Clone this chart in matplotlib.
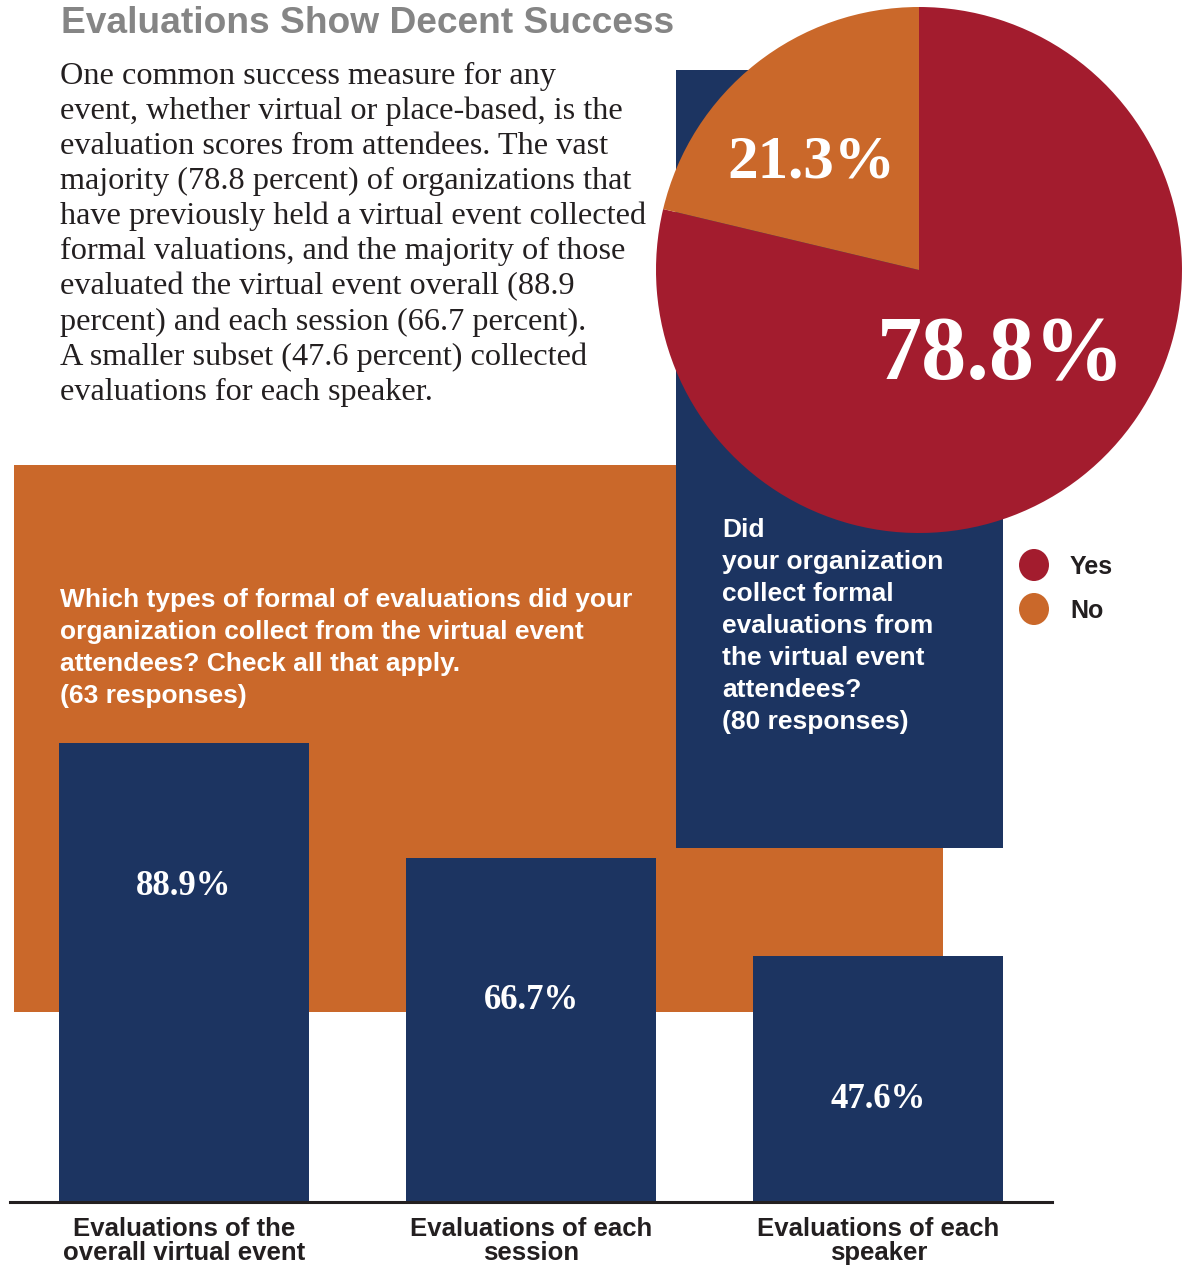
import matplotlib
matplotlib.use("Agg")
import matplotlib.pyplot as plt
from matplotlib.patches import Rectangle, Circle

# ---- data ----
bar_categories = ["Evaluations of the\noverall virtual event",
                  "Evaluations of each\nsession",
                  "Evaluations of each\nspeaker"]
bar_values = [88.9, 66.7, 47.6]

pie_labels = ["Yes", "No"]
pie_values = [78.8, 21.3]

title_text = "Evaluations Show Decent Success"
body_lines = [
    "One common success measure for any",
    "event, whether virtual or place-based, is the",
    "evaluation scores from attendees. The vast",
    "majority (78.8 percent) of organizations that",
    "have previously held a virtual event collected",
    "formal valuations, and the majority of those",
    "evaluated the virtual event overall (88.9",
    "percent) and each session (66.7 percent).",
    "A smaller subset (47.6 percent) collected",
    "evaluations for each speaker.",
]
bar_question = ["Which types of formal of evaluations did your",
                "organization collect from the virtual event",
                "attendees? Check all that apply.",
                "(63 responses)"]
pie_question = ["Did", "your organization", "collect formal",
                "evaluations from", "the virtual event",
                "attendees?", "(80 responses)"]

# ---- style ----
ORANGE = "#CA682A"
NAVY = "#1C3461"
RED = "#A31C2E"
GRAY = "#858585"
INK = "#231F20"

W, H = 1186, 1266
fig = plt.figure(figsize=(W / 100, H / 100), dpi=100)
fig.patch.set_facecolor("white")


def fx(x):
    return x / W


def fy(y):
    return 1 - y / H


# background panels
fig.patches.append(Rectangle((fx(14), fy(1012)), fx(943 - 14), (1012 - 465) / H,
                             transform=fig.transFigure, facecolor=ORANGE,
                             edgecolor="none", zorder=0))
fig.patches.append(Rectangle((fx(676), fy(848)), fx(1003 - 676), (848 - 70) / H,
                             transform=fig.transFigure, facecolor=NAVY,
                             edgecolor="none", zorder=0.5))

# title and body text
fig.text(fx(61), fy(33), title_text, fontsize=26.7, fontweight="bold",
         family="Liberation Sans", color=GRAY, va="baseline", ha="left")
for i, line in enumerate(body_lines):
    fig.text(fx(60), fy(84 + i * 35.1), line, fontsize=23.2,
             family="Liberation Serif", color=INK, va="baseline", ha="left")

# panel questions
for i, line in enumerate(bar_question):
    fig.text(fx(60), fy(600 + i * 32), line, fontsize=19, fontweight="bold",
             family="Liberation Sans", color="white", va="center", ha="left")
for i, line in enumerate(pie_question):
    fig.text(fx(722), fy(530 + i * 32), line, fontsize=19, fontweight="bold",
             family="Liberation Sans", color="white", va="center", ha="left")

# ---- bar chart ----
ax = fig.add_axes([fx(10), fy(1202), fx(1052 - 10), 516 / H])
ax.set_zorder(2)
ax.patch.set_alpha(0)
xs = list(range(len(bar_values)))
bars = ax.bar(xs, bar_values, width=0.72, color=NAVY, zorder=2)
ax.set_xlim(-0.5, 2.5)
ax.set_ylim(0, 100)
for s in ["top", "right", "left"]:
    ax.spines[s].set_visible(False)
ax.spines["bottom"].set_color(INK)
ax.spines["bottom"].set_linewidth(2.2)
ax.set_yticks([])
ax.set_xticks(xs)
ax.set_xticklabels(bar_categories, fontsize=18.5, fontweight="bold",
                   family="Liberation Sans", color=INK, linespacing=0.98)
ax.tick_params(axis="x", length=0, pad=11)
for x, v in zip(xs, bar_values):
    ax.text(x, v - 27.7, f"{v:.1f}%", ha="center", va="center", color="white",
            fontsize=25, fontweight="bold", family="Liberation Serif")

# ---- pie chart ----
R = 263
pax = fig.add_axes([fx(919 - R), fy(270 + R), 2 * R / W, 2 * R / H])
pax.set_zorder(3)
wedges, _ = pax.pie(pie_values, colors=[RED, ORANGE], startangle=90,
                    counterclock=False, radius=1,
                    wedgeprops=dict(linewidth=0))
pax.set_xlim(-1, 1)
pax.set_ylim(-1, 1)
pax.set_aspect("equal")
pax.text(0.31, -0.33, f"{pie_values[0]:.1f}%", ha="center", va="center",
         color="white", fontsize=65, fontweight="bold", family="Liberation Serif")
pax.text(-0.41, 0.41, f"{pie_values[1]:.1f}%", ha="center", va="center",
         color="white", fontsize=44, fontweight="bold", family="Liberation Serif")

# legend
for i, (lab, col) in enumerate(zip(pie_labels, [RED, ORANGE])):
    cy = 565 + i * 44
    fig.patches.append(Circle((fx(1034), fy(cy)), 15 / W,
                              transform=fig.transFigure, facecolor=col,
                              edgecolor="none", zorder=4))
    fig.text(fx(1070), fy(cy + 2), lab, fontsize=18, fontweight="bold",
             family="Liberation Sans", color=INK, va="center", ha="left")

fig.savefig("out.png", dpi=100)
